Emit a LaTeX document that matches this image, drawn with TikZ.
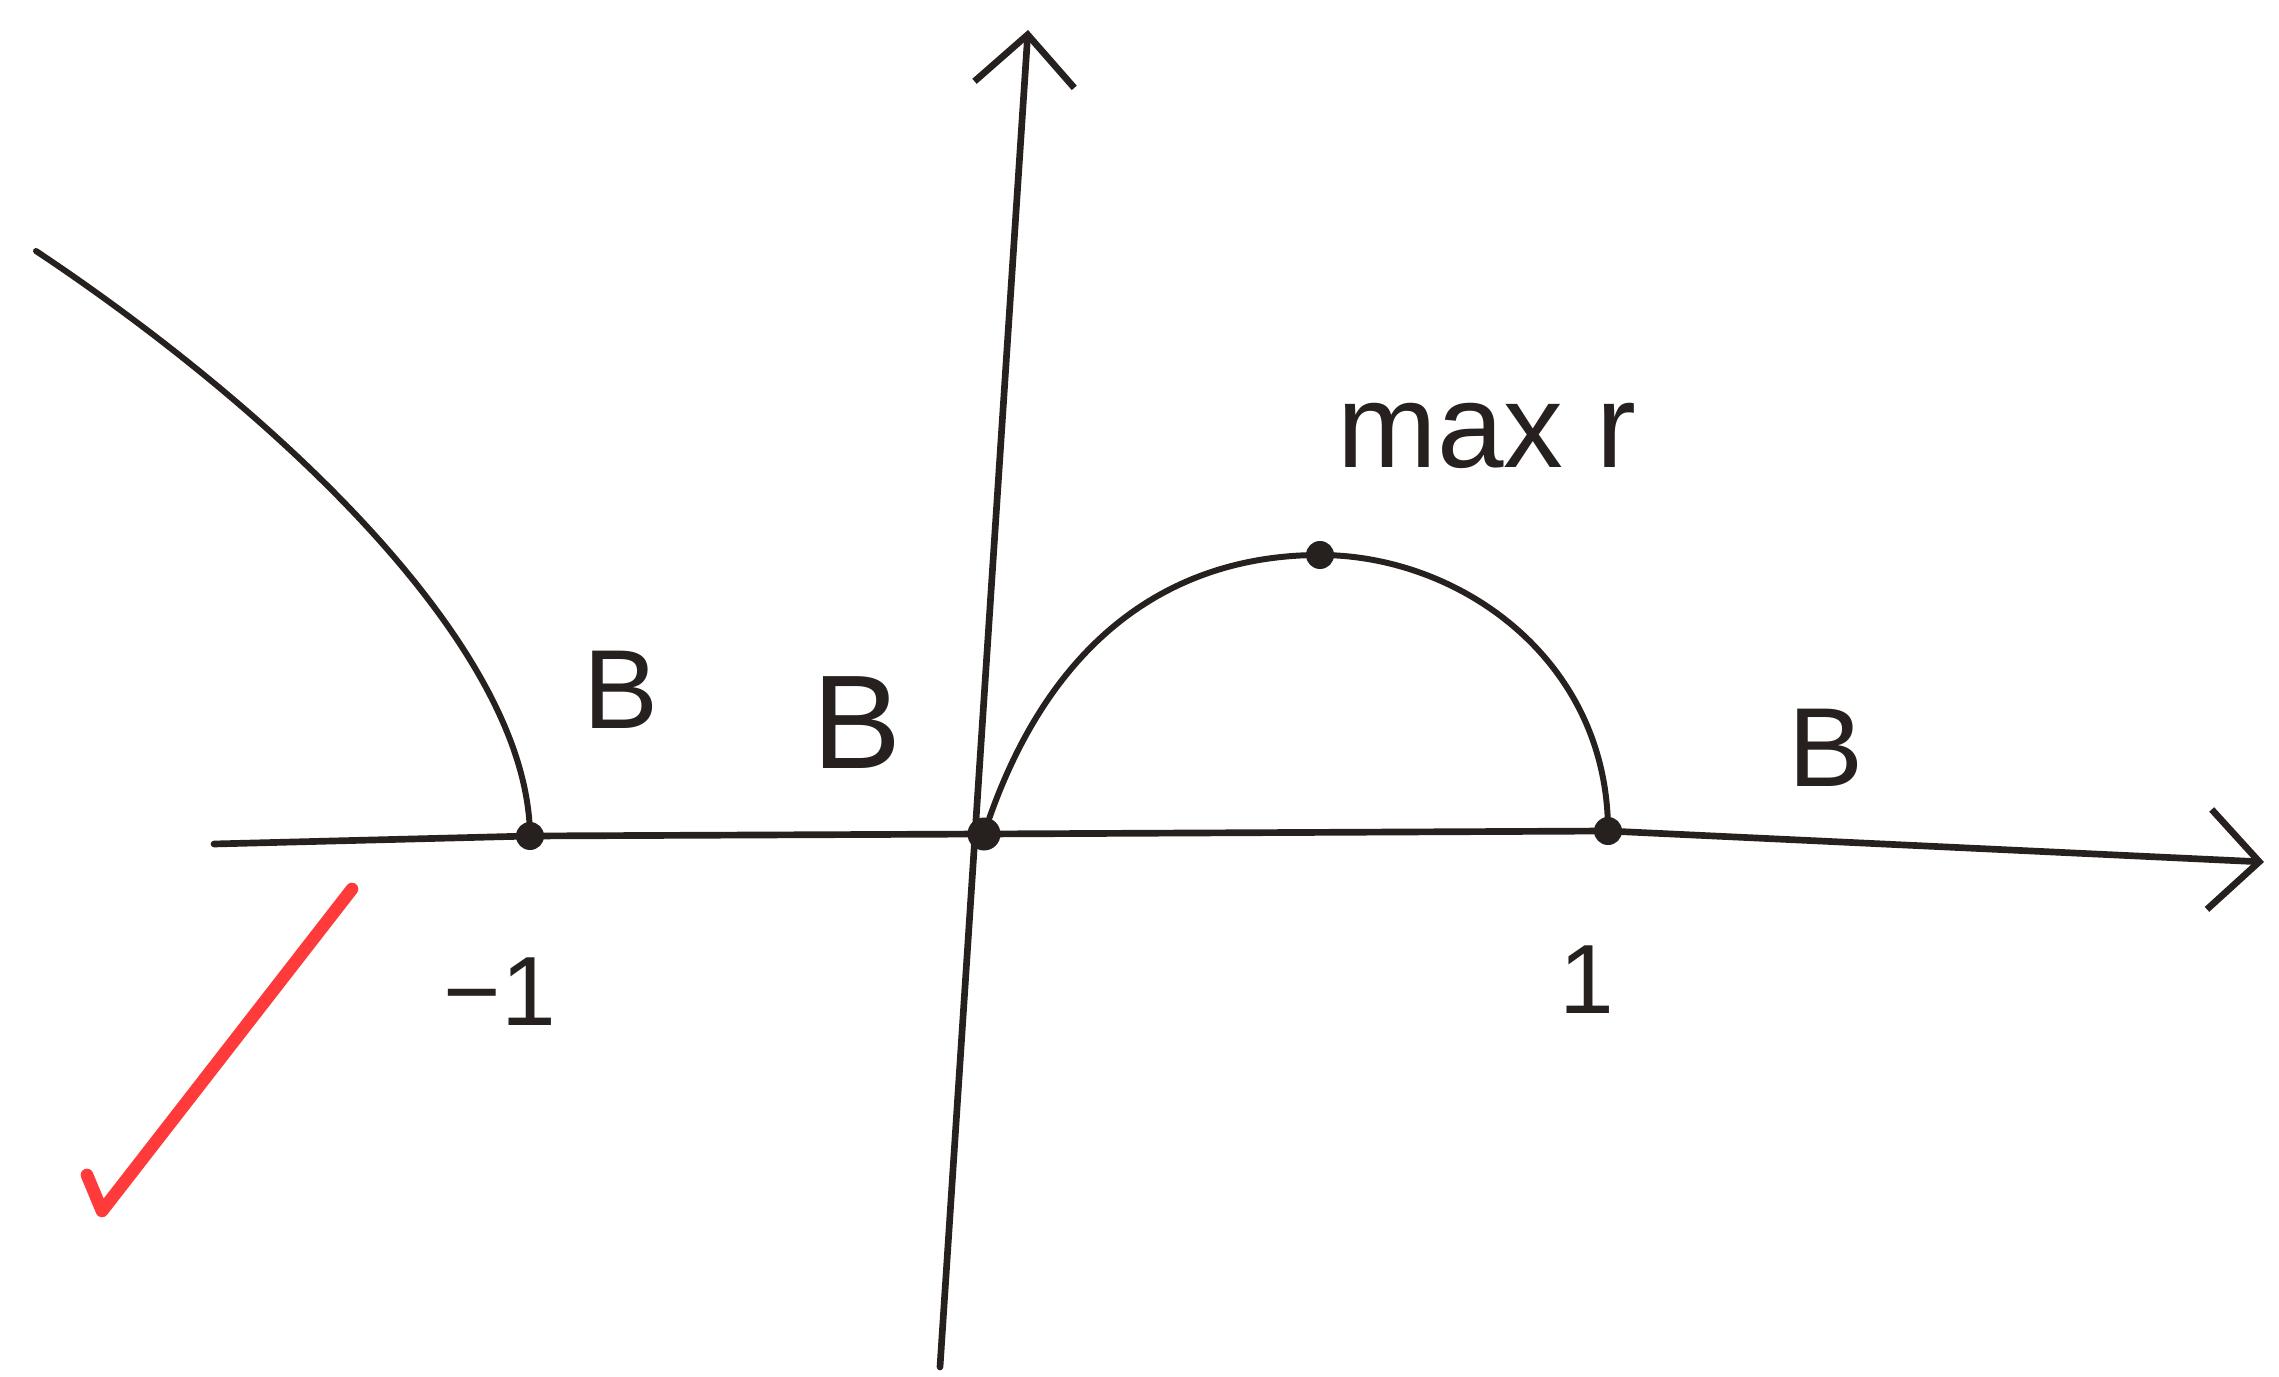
\documentclass[tikz,border=0pt]{standalone}
\usepackage{fontspec}
\setmainfont{Liberation Sans}
\usepackage{xcolor}
\definecolor{skink}{RGB}{38,33,30}
\definecolor{skred}{RGB}{255,58,58}
\usetikzlibrary{arrows.meta,positioning}
\tikzset{
  axisline/.style={draw=skink, line width=1.9pt, line cap=round,
                   -{Straight Barb[length=5mm, width=10mm, line width=1.9pt]}},
  graphline/.style={draw=skink, line width=1.7pt, line cap=round},
  dotnode/.style={circle, fill=skink, inner sep=0pt, minimum size=#1},
  dotnode/.default=0.28cm,
  lbl/.style={text=skink, font=\fontsize{#1}{#1}\selectfont, inner sep=0pt},
  checkmark/.style={draw=skred, line width=3.6pt, line cap=round, line join=round},
}

\begin{document}
\begin{tikzpicture}
  \useasboundingbox (0,0) rectangle (22.79,-13.77);

  % Axes
  \coordinate (xl) at (2.14,-8.44);
  \coordinate (xr) at (22.64,-8.62);
  \coordinate (yb) at (9.40,-13.67);
  \coordinate (yt) at (10.28,-0.30);
  \draw[axisline] (xl) -- (5.30,-8.36) -- (9.84,-8.34) -- (16.08,-8.31) -- (xr);
  \draw[axisline] (yb) -- (yt);

  % Marked points
  \node[dotnode] (m1) at (5.30,-8.36) {};
  \node[dotnode=0.33cm] (o) at (9.84,-8.34) {};
  \node[dotnode] (p1) at (16.08,-8.31) {};
  \node[dotnode] (top) at (13.20,-5.55) {};

  % Curves
  \coordinate (lc) at (0.36,-2.51);
  \draw[graphline] (lc) .. controls (2.6,-4.0) and (5.28,-6.4) .. (m1.center);
  \draw[graphline] (o.center) .. controls (10.5,-6.3) and (11.8,-5.55) .. (top.center)
                   .. controls (14.6,-5.55) and (16.08,-6.6) .. (p1.center);

  % Labels
  \node[lbl=32pt] (bl) at (6.21,-6.90) {B};
  \node[lbl=38pt] (bm) at (8.57,-7.23) {B};
  \node[lbl=32pt] (br) at (18.26,-7.48) {B};
  \node[lbl=34pt] (mx) at (14.87,-4.36) {max r};
  \node[lbl=28pt] (tm1) at (5.00,-9.92) {−1};
  \node[lbl=28pt] (tp1) at (15.87,-9.80) {1};

  % Red tick
  \coordinate (c1) at (0.87,-11.75);
  \coordinate (c2) at (1.02,-12.11);
  \coordinate (c3) at (3.52,-8.89);
  \draw[checkmark] (c1) -- (c2) -- (c3);
\end{tikzpicture}
\end{document}
